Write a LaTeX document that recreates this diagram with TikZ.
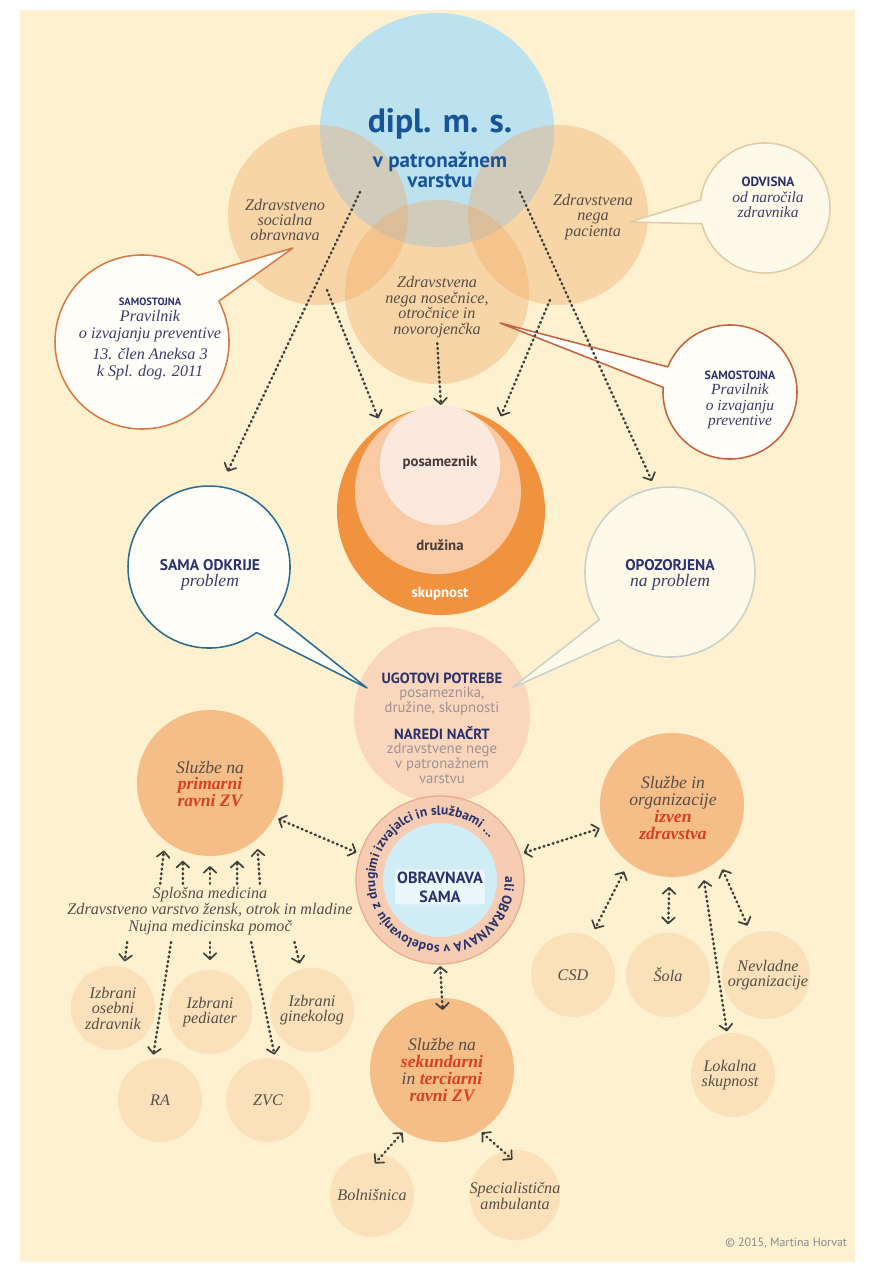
\documentclass[tikz,border=0pt]{standalone}
\usepackage{fontspec}
\setmainfont{Liberation Serif}
\newfontfamily\dinfont{PT Sans}
\usepackage{xcolor}
\usepackage{tikz}
\usetikzlibrary{arrows.meta,positioning,decorations.text}

\definecolor{paper}{RGB}{253,241,207}
\definecolor{peach}{RGB}{242,168,100}
\definecolor{sky}{RGB}{188,226,240}
\definecolor{skyin}{RGB}{208,236,244}
\definecolor{deepblue}{RGB}{24,84,152}
\definecolor{navy}{RGB}{42,50,108}
\definecolor{orng}{RGB}{240,146,62}
\definecolor{fam}{RGB}{249,202,164}
\definecolor{indiv}{RGB}{252,233,222}
\definecolor{needs}{RGB}{250,214,188}
\definecolor{ringc}{RGB}{246,204,178}
\definecolor{ringb}{RGB}{232,168,138}
\definecolor{svc}{RGB}{245,190,136}
\definecolor{small}{RGB}{250,225,186}
\definecolor{serifc}{RGB}{88,78,72}
\definecolor{redc}{RGB}{214,64,40}
\definecolor{greyt}{RGB}{160,146,146}
\definecolor{lvlc}{RGB}{70,60,60}
\definecolor{arrc}{RGB}{66,66,60}
\definecolor{bubor}{RGB}{214,122,72}
\definecolor{bubred}{RGB}{196,98,66}
\definecolor{bubbl}{RGB}{42,110,146}
\definecolor{bubtan}{RGB}{226,204,164}
\definecolor{bubgr}{RGB}{200,210,202}
\definecolor{bubfill}{RGB}{255,253,247}
\definecolor{bubcream}{RGB}{255,249,234}
\definecolor{bubtxt}{RGB}{58,62,104}

\newcommand\fsz[2]{\fontsize{#1}{#2}\selectfont}
\newcommand\hl[1]{\textcolor{redc}{\bfseries #1}}

\begin{document}
\begin{tikzpicture}[x=0.025cm, y=-0.025cm,
    rad/.style={circle, inner sep=0pt, outer sep=0pt, minimum size=#1*0.05cm},
    veil/.style={fill=peach, fill opacity=0.38},
    ital/.style={font=\itshape\fsz{11.5}{11}, text=serifc, align=center, inner sep=1pt},
    svct/.style={font=\itshape\fsz{12.5}{12}, text=serifc, align=center, inner sep=1pt},
    bital/.style={font=\itshape\fsz{11.5}{12}, text=bubtxt, align=center, inner sep=1pt},
    caps/.style={font=\dinfont\bfseries\fsz{#1}{#1}, text=navy, align=center, inner sep=1pt},
    lvl/.style={font=\dinfont\bfseries\fsz{10.5}{11}, text=lvlc},
    soft/.style={font=\dinfont\fsz{10.5}{10.8}, text=greyt, align=center, inner sep=1pt},
    bub/.style={line width=1.1pt, line join=round},
    arr/.style={draw=arrc, line width=1.8pt, line cap=round, dash pattern=on 0.7pt off 2.7pt,
                -{Straight Barb[length=1.5mm, width=3.2mm, line width=1.2pt, round]}},
    dbl/.style={arr, {Straight Barb[length=1.5mm, width=3.2mm, line width=1.2pt, round]}-{Straight Barb[length=1.5mm, width=3.2mm, line width=1.2pt, round]}}]
  \useasboundingbox (0,0) rectangle (874,1275);
  \fill[white] (0,0) rectangle (874,1275);
  \fill[paper] (20,10) rectangle (855,1262);

  % the nurse and her three fields of work
  \node[rad=117, fill=sky] (dipl) at (437,130) {};
  \node[rad=90, veil] (zsoc) at (318,215) {};
  \node[rad=90, veil] (zpac) at (558,215) {};
  \node[rad=92, veil] (znos) at (437,292) {};
  \node[font=\dinfont\bfseries\fsz{24}{24}, text=deepblue] (title) at (440,124) {dipl. m. s.};
  \node[font=\dinfont\bfseries\fsz{15}{14}, text=deepblue, align=center] (titlesub) at (440,170) {v patronažnem\\varstvu};
  \node[ital] (zsoct) at (285,220) {Zdravstveno\\socialna\\obravnava};
  \node[ital] (zpact) at (593,217) {Zdravstvena\\nega\\pacienta};
  \node[ital] (znost) at (437,307) {Zdravstvena\\nega nosečnice,\\otročnice in\\novorojenčka};

  % individual, family, community
  \node[rad=104, fill=orng] (skup) at (441,511) {};
  \node[rad=83, fill=fam] (druz) at (438,491) {};
  \node[rad=60, fill=indiv] (posam) at (440,465) {};
  \node[lvl] (posamt) at (440,463) {posameznik};
  \node[lvl] (druzt) at (440,545) {družina};
  \node[lvl, text=white] (skupt) at (440,594) {skupnost};

  % needs and plan
  \node[rad=88, fill=needs] (needs) at (442,715) {};
  \node[caps=10.5] (ugot) at (442,678) {UGOTOVI POTREBE};
  \node[soft, below=0pt of ugot] (ugots) {posameznika,\\družine, skupnosti};
  \node[caps=10.5] (nacrt) at (442,733) {NAREDI NAČRT};
  \node[soft, below=0pt of nacrt] (nacrts) {zdravstvene nege\\v patronažnem\\varstvu};

  % speech bubbles
  \node[rad=87] (samoL) at (142,342) {};
  \coordinate (tipL) at (293,248);
  \filldraw[bub, draw=bubor, fill=bubfill] (tipL) -- (samoL.28) arc[start angle=-28, delta angle=338, radius=87] -- cycle;
  \node[caps=7.5] (samoLh) at (150,302) {SAMOSTOJNA};
  \node[bital, below=1pt of samoLh] (samoLt) {Pravilnik\\o izvajanju preventive\\[3pt]13. člen Aneksa 3\\k Spl. dog. 2011};

  \node[rad=65] (odv) at (765,208) {};
  \coordinate (tipO) at (630,222);
  \filldraw[bub, draw=bubtan, fill=bubcream] (tipO) -- (odv.173) arc[start angle=-173, delta angle=339, radius=65] -- cycle;
  \node[caps=9.5] (odvh) at (768,182) {ODVISNA};
  \node[bital, font=\itshape\fsz{11}{10.5}, below=1pt of odvh] (odvt) {od naročila\\zdravnika};

  \node[rad=67] (samoR) at (730,392) {};
  \coordinate (tipR) at (500,323);
  \filldraw[bub, draw=bubred, fill=bubfill] (tipR) -- (samoR.158) arc[start angle=-158, delta angle=342, radius=67] -- cycle;
  \node[caps=8.5] (samoRh) at (740,375) {SAMOSTOJNA};
  \node[bital, font=\itshape\fsz{11}{11}, below=1pt of samoRh] (samoRt) {Pravilnik\\o izvajanju\\preventive};

  \node[rad=81] (odk) at (209,567) {};
  \coordinate (tipK) at (367,688);
  \filldraw[bub, draw=bubbl, fill=bubfill] (tipK) -- (odk.-54) arc[start angle=54, delta angle=342, radius=81] -- cycle;
  \node[caps=11] (odkh) at (210,565) {SAMA ODKRIJE};
  \node[bital, font=\itshape\fsz{12.5}{12}, below=0pt of odkh] (odkt) {problem};

  \node[rad=85] (opo) at (670,572) {};
  \coordinate (tipP) at (512,688);
  \filldraw[bub, draw=bubgr, fill=bubcream] (tipP) -- (opo.-146) arc[start angle=146, delta angle=341, radius=85] -- cycle;
  \node[caps=11] (opoh) at (670,565) {OPOZORJENA};
  \node[bital, font=\itshape\fsz{12.5}{12}, below=0pt of opoh] (opot) {na problem};

  % care on her own or with others
  \node[rad=84, fill=ringc, draw=ringb, line width=0.8pt] (obr) at (440,880) {};
  \node[rad=57, fill=skyin] (obrin) at (440,880) {};
  \path[decorate, decoration={text along path,
      text={|\dinfont\bfseries\fsz{9.6}{10}\color{navy}|ali OBRAVNAVA v sodelovanju z drugimi izvajalci in službami ...}}]
    ([shift={(-3:65)}]obr.center) arc[start angle=-3, delta angle=356, radius=65];
  \node[caps=11.5, font=\dinfont\bfseries\fsz{11.5}{13.5}, fill=white, fill opacity=0.6, text opacity=1,
        rounded corners=2pt, inner sep=1.5pt] (obrt) at (440,887) {OBRAVNAVA\\SAMA};

  % services
  \node[rad=73, fill=svc] (prim) at (210,783) {};
  \node[svct] (primt) at (210,784) {Službe na\\\hl{primarni}\\\hl{ravni ZV}};
  \node[rad=72, fill=svc] (izven) at (672,805) {};
  \node[svct] (izvent) at (673,808) {Službe in\\organizacije\\\hl{izven}\\\hl{zdravstva}};
  \node[rad=72, fill=svc] (sek) at (442,1070) {};
  \node[svct] (sekt) at (442,1070) {Službe na\\\hl{sekundarni}\\in \hl{terciarni}\\\hl{ravni ZV}};

  \node[ital, font=\itshape\fsz{11.5}{11.5}] (splosna) at (210,911) {Splošna medicina\\Zdravstveno varstvo žensk, otrok in mladine\\Nujna medicinska pomoč};

  \node[rad=42, fill=small] (osebni) at (113,1008) {};
  \node[ital] at (113,1008) {Izbrani\\osebni\\zdravnik};
  \node[rad=42, fill=small] (pediat) at (210,1012) {};
  \node[ital] at (210,1012) {Izbrani\\pediater};
  \node[rad=42, fill=small] (gineko) at (312,1010) {};
  \node[ital] at (312,1010) {Izbrani\\ginekolog};
  \node[rad=42, fill=small] (ra) at (160,1100) {};
  \node[ital] at (160,1100) {RA};
  \node[rad=42, fill=small] (zvc) at (268,1100) {};
  \node[ital] at (268,1100) {ZVC};

  \node[rad=42, fill=small] (csd) at (573,975) {};
  \node[ital] at (573,975) {CSD};
  \node[rad=42, fill=small] (sola) at (668,975) {};
  \node[ital] at (668,975) {Šola};
  \node[rad=44, fill=small] (nevlad) at (766,975) {};
  \node[ital] at (768,975) {Nevladne\\organizacije};
  \node[rad=42, fill=small] (lokal) at (733,1075) {};
  \node[ital] at (730,1075) {Lokalna\\skupnost};

  \node[rad=42, fill=small] (bolnis) at (372,1195) {};
  \node[ital] at (372,1195) {Bolnišnica};
  \node[rad=45, fill=small] (special) at (515,1195) {};
  \node[ital] at (515,1196) {Specialistična\\ambulanta};

  \node[font=\dinfont\fsz{8.5}{9}, text=black!45, anchor=east] (copy) at (852,1243) {© 2015, Martina Horvat};

  % dotted connectors
  \coordinate (fromL) at (360,192);
  \coordinate (fromS) at (327,290);
  \coordinate (fromP) at (550,300);
  \coordinate (fromR) at (520,192);
  \draw[arr, shorten >=0.42cm] (fromL) -- (odk.82);
  \draw[arr, shorten >=0.2cm] (fromS) -- (skup.125);
  \draw[arr, shorten <=0.1cm, shorten >=0.05cm] (znost.south) -- (skup.north);
  \draw[arr, shorten >=0.2cm] (fromP) -- (skup.57);
  \draw[arr, shorten >=0.2cm] (fromR) -- (opo.100);

  \draw[dbl, shorten <=0.1cm, shorten >=0.1cm] (prim.-28) -- (obr.162);
  \draw[dbl, shorten <=0.1cm, shorten >=0.1cm] (obr.18) -- (izven.198);
  \draw[dbl, shorten <=0.05cm, shorten >=-0.3cm] (obr.south) -- (sek.north);
  \draw[dbl, shorten <=0.05cm, shorten >=-0.3cm] (sek.-122) -- (bolnis.75);
  \draw[dbl, shorten <=0.05cm, shorten >=-0.3cm] (sek.-58) -- (special.105);

  \foreach \dx/\ang in {-50/-128,-27/-112,0/-90,27/-68,50/-50}
    \draw[arr, shorten <=0.05cm, shorten >=0.25cm] ([xshift=\dx*0.025cm]splosna.north) -- (prim.\ang);
  \draw[arr, shorten <=0.15cm, shorten >=0.15cm] ([xshift=-82*0.025cm]splosna.south) -- (osebni.75);
  \draw[arr, shorten <=0.15cm, shorten >=0.1cm] ([xshift=-38*0.025cm]splosna.south) -- (ra.100);
  \draw[arr, shorten <=0.15cm, shorten >=0.25cm] (splosna.south) -- (pediat.north);
  \draw[arr, shorten <=0.15cm, shorten >=0.1cm] ([xshift=40*0.025cm]splosna.south) -- (zvc.80);
  \draw[arr, shorten <=0.15cm, shorten >=0.15cm] ([xshift=83*0.025cm]splosna.south) -- (gineko.105);

  \draw[dbl, shorten <=0.25cm, shorten >=0.22cm] (izven.-127) -- (csd.65);
  \draw[dbl, shorten <=0.25cm, shorten >=0.22cm] (izven.-92) -- (sola.north);
  \draw[dbl, shorten <=0.25cm, shorten >=0.05cm] (izven.-65) -- (lokal.98);
  \draw[dbl, shorten <=0.25cm, shorten >=0.22cm] (izven.-50) -- (nevlad.110);
\end{tikzpicture}
\end{document}
